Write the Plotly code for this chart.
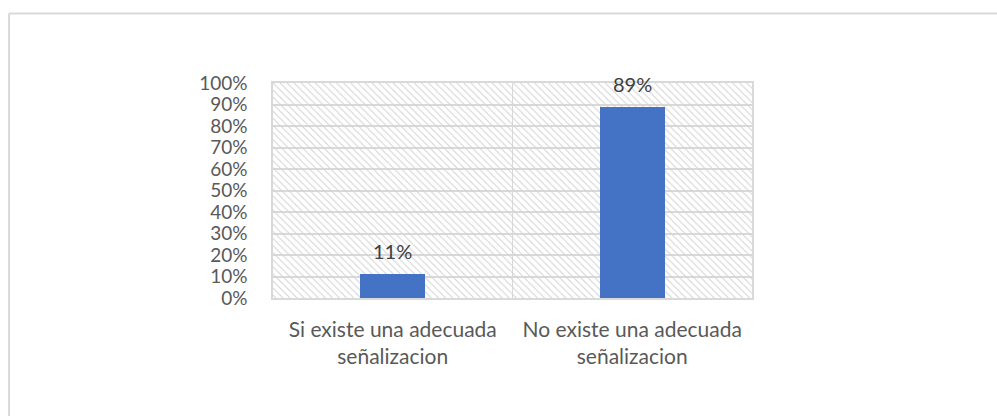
import plotly.graph_objects as go

categories = ["Si existe una adecuada<br>señalizacion", "No existe una adecuada<br>señalizacion"]
values = [0.11, 0.89]
y_max = 1.0
tick_vals = [i / 10 for i in range(11)]
tick_text = [f"{i*10}%" for i in range(11)]

FONT = "Lato"
GRID = "#d9d9d9"
TXT = "#595959"

fig = go.Figure()

# hatched plot-area background, one full-width hatched block per category
fig.add_trace(go.Bar(
    x=categories, y=[y_max] * len(categories), width=1.0,
    marker=dict(color="#d2d2d2", line=dict(width=0),
                pattern=dict(shape="\\", size=5, solidity=0.2, fillmode="replace")),
    hoverinfo="skip", showlegend=False,
))

fig.add_trace(go.Bar(
    x=categories, y=values, width=0.27,
    marker=dict(color="#4472C4", line=dict(width=0)),
    showlegend=False,
))

for c, v in zip(categories, values):
    fig.add_annotation(x=c, y=v, text=f"{round(v*100)}%", showarrow=False,
                       yshift=23, font=dict(family=FONT, size=20, color="#404040"))

fig.update_layout(
    width=997, height=416,
    margin=dict(l=273, r=245, t=83, b=118),
    paper_bgcolor="white", plot_bgcolor="white",
    barmode="overlay", bargap=0,
    font=dict(family=FONT, size=19, color=TXT),
    shapes=[
        dict(type="line", xref="paper", yref="paper", x0=-0.551, x1=1.6, y0=1.323, y1=1.323,
             line=dict(color=GRID, width=2)),
        dict(type="line", xref="paper", yref="paper", x0=-0.551, x1=-0.551, y0=1.323, y1=-0.6,
             line=dict(color=GRID, width=2)),
    ],
)
fig.update_xaxes(
    tickson="boundaries", showgrid=True, gridcolor=GRID, gridwidth=1,
    showline=True, mirror=True, linecolor=GRID, linewidth=1.5,
    ticks="", ticklabelstandoff=12, tickfont=dict(family=FONT, size=21, color=TXT),
    range=[-0.5, 1.5],
)
fig.update_yaxes(
    range=[0, y_max], tickvals=tick_vals, ticktext=tick_text,
    showgrid=True, gridcolor=GRID, gridwidth=1.5,
    showline=True, mirror=True, linecolor=GRID, linewidth=1.5,
    ticks="", ticklabelstandoff=20, zeroline=False,
    tickfont=dict(family=FONT, size=19, color=TXT),
)

fig.write_html("out.html", config={"displayModeBar": False},
               post_script="document.body.style.margin='0';document.body.style.overflow='hidden';")
